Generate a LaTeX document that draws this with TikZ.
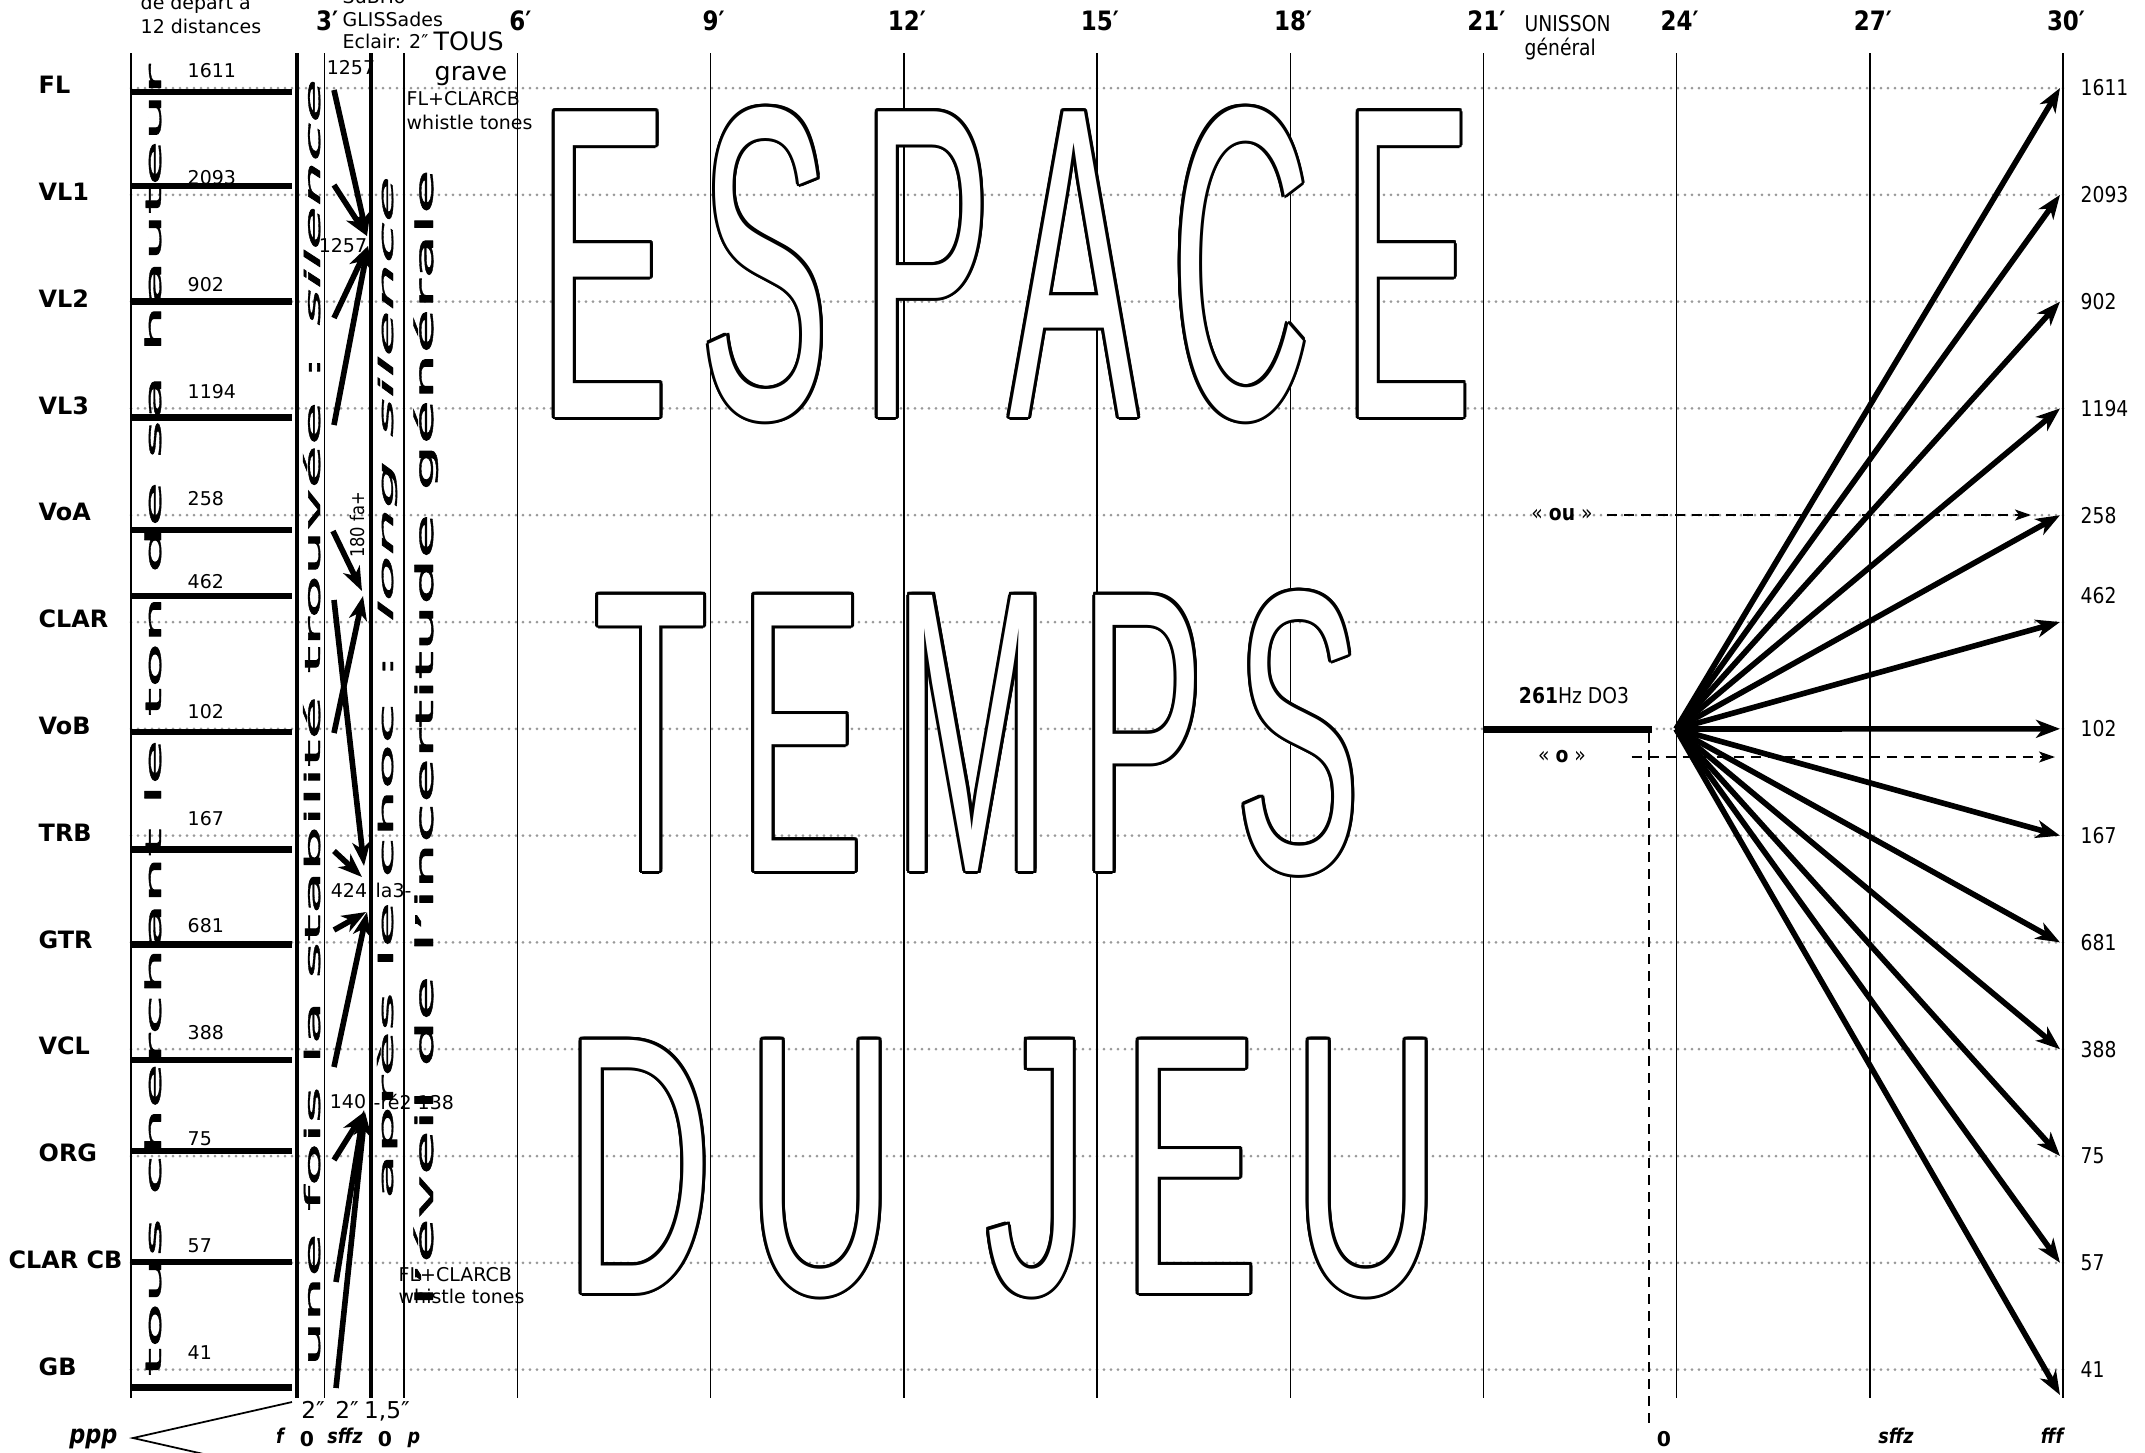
\documentclass[tikz,border=0pt]{standalone}
\usepackage{fontspec}
\usepackage{graphicx}
\setmainfont{DejaVu Sans}
\newfontfamily\condfont[FakeStretch=0.86]{DejaVu Sans}
\newfontfamily\bigfont[LetterSpace=17]{Liberation Sans}
\newfontfamily\longfont[FakeBold=1.5]{DejaVu Sans}
\usetikzlibrary{arrows.meta,calc}

\begin{document}
\begin{tikzpicture}[x=0.1mm,y=-0.1mm,
  every node/.style={inner sep=0pt},
  rule/.style={line width=0.4pt},
  heavy/.style={line width=1.1pt},
  pitchbar/.style={line width=1.8pt},
  rowline/.style={gray!80,line width=0.3mm,line cap=round,dash pattern=on 0pt off 0.7mm},
  fwd/.style={line width=1.6pt,-{Stealth[length=2.4mm,width=1.8mm,inset=0.7mm]}},
  hint/.style={line width=0.5pt,dash pattern=on 1mm off 0.7mm,-{Stealth[length=1.6mm,width=1.1mm,inset=0.4mm]}},
  instr/.style={anchor=west,font=\fontsize{6.8}{8}\selectfont\bfseries},
  val/.style={anchor=west,font=\fontsize{5.4}{6.5}\selectfont},
  rval/.style={anchor=west,font=\condfont\fontsize{6.2}{7.5}\selectfont},
  note/.style={anchor=base west,font=\fontsize{5.4}{6.5}\selectfont},
  cnote/.style={anchor=base west,font=\condfont\fontsize{6.2}{7.5}\selectfont},
  minute/.style={anchor=base,font=\condfont\bfseries\fontsize{7.6}{9}\selectfont},
  dyn/.style={anchor=base,font=\condfont\bfseries\itshape\fontsize{5.8}{7}\selectfont},
  zero/.style={anchor=base,font=\bfseries\fontsize{5.8}{7}\selectfont},
  secs/.style={anchor=base,font=\fontsize{6.6}{8}\selectfont},
  long/.style={rotate=90,anchor=base west,font=\longfont},
  word/.style={anchor=base west,font=\bigfont}]

  \useasboundingbox (0,0) rectangle (2145,1452);

  \foreach \i/\name/\lx/\hz/\bo/\no/\ro [evaluate=\i as \yy using {88+106.8*\i}] in
    {0/FL/38/1611/4/17/0, 1/VL1/38/2093/-9/17/0, 2/VL2/38/902/0/17/0,
     3/VL3/38/1194/9/17/0, 4/VoA/38/258/15/17/0, 5/CLAR/38/462/-26/40/26,
     6/VoB/38/102/3/17/0, 7/TRB/38/167/14/17/0, 8/GTR/38/681/2/17/0,
     9/VCL/38/388/11/17/0, 10/ORG/38/75/-5/17/0, 11/CLAR CB/8/57/-1/17/0,
     12/GB/38/41/18/17/0} {
    \draw[rowline] (131,\yy) -- (2063,\yy);
    \draw[pitchbar] (131,{\yy+(\bo)}) -- (292,{\yy+(\bo)});
    \node[instr] (lab\i) at (\lx,{\yy-3}) {\name};
    \node[val] (num\i) at (187,{\yy-\no}) {\hz};
    \node[rval] (end\i) at (2080,{\yy-\ro}) {\hz};
    \coordinate (e\i) at (2060,\yy);
  }
  \coordinate (e12) at (2060,1395);

  \foreach \t in {0,3,...,30}
    \draw[rule] ({131+64.4*\t},53) -- ({131+64.4*\t},1398);
  \draw[heavy] (297,53) -- (297,1398);
  \draw[heavy] (371,53) -- (371,1398);
  \draw[rule] (404,53) -- (404,1398);
  \foreach \t in {3,6,...,30}
    \node[minute] (min\t) at ({134+64.4*\t},30) {\t′};

  \foreach \k in {0,...,15} {
    \node[word] (espace\k) at ($(539,417)+({\k*22.5}:0.3mm)$) {\resizebox{93.2mm}{31mm}{ESPACE}};
    \node[word] (temps\k) at ($(594,871)+({\k*22.5}:0.3mm)$) {\resizebox{76.5mm}{28mm}{TEMPS}};
    \node[word] (dujeu\k) at ($(565,1293)+({\k*22.5}:0.3mm)$) {\resizebox{87.5mm}{25.3mm}{DU JEU}};
  }
  \node[word,text=white] (espace) at (539,417) {\resizebox{93.2mm}{31mm}{ESPACE}};
  \node[word,text=white] (temps) at (594,871) {\resizebox{76.5mm}{28mm}{TEMPS}};
  \node[word,text=white] (dujeu) at (565,1293) {\resizebox{87.5mm}{25.3mm}{DU JEU}};

  \node[long] (txa) at (161,1377) {\resizebox{131.2mm}{1.65mm}{tous cherchant le ton de sa hauteur}};
  \node[long] (txb) at (320,1367) {\resizebox{128.7mm}{1.7mm}{une fois la stabilité trouvée : \textit{silence}}};
  \node[long] (txc) at (393,1200) {\resizebox{102.3mm}{1.6mm}{après le choc : \textit{long silence}}};
  \node[long] (txd) at (433,1307) {\resizebox{113.7mm}{1.95mm}{l’éveil de l’incertitude générale}};

  \foreach \i/\sx/\sy/\tx/\ty in {0/334/90/367/236, 1/334/185/367/236, 2/334/318/368/246,
      3/334/425/368/246, 4/333/531/362/591, 5/334/600/364/866, 6/334/733/363/596,
      7/334/851/362/877, 8/334/930/366/912, 9/334/1067/367/912, 10/334/1160/364/1112,
      11/336/1282/364/1110, 12/336/1388/365/1112} {
    \coordinate (s\i) at (\sx,\sy);
    \coordinate (g\i) at (\tx,\ty);
    \draw[fwd] (s\i) -- (g\i);
  }

  \node[val,anchor=center] (hiA) at (351,68) {1257};
  \node[val,anchor=center] (hiB) at (343,246) {1257};
  \node[long,anchor=center,font=\condfont\fontsize{5.4}{6.5}\selectfont] (fa) at (357,525) {180 fa+};
  \node[val,anchor=center] (la) at (349,890) {424};
  \node[val] (la3) at (375,890) {la3-};
  \node[val,anchor=center] (re) at (348,1102) {140};
  \node[val] (re2) at (373,1102) {-ré2 138};

  \node[note] (dep) at (140,9) {de départ à};
  \node[note] (dist) at (140,33) {12 distances};
  \node[note] (sub) at (342,3) {SuBITo};
  \node[note] (gli) at (342,26) {GLISSades};
  \node[note] (ecl) at (342,48) {Eclair: 2″};
  \node[anchor=base west,font=\fontsize{7.2}{8.5}\selectfont] (tous) at (433,50) {TOUS};
  \node[anchor=base,font=\fontsize{7.2}{8.5}\selectfont] (grave) at (471,80) {grave};
  \node[note] (wtA) at (406,105) {FL+CLARCB};
  \node[note] (wtB) at (406,129) {whistle tones};
  \node[note] (wtC) at (398,1281) {FL+CLARCB};
  \node[note] (wtD) at (398,1303) {whistle tones};

  \node[dyn,anchor=base east,font=\condfont\bfseries\itshape\fontsize{7.4}{8}\selectfont] (ppp) at (118,1443) {ppp};
  \coordinate (hp) at (133,1438);
  \coordinate (hu) at (292,1402);
  \coordinate (hl) at (292,1474);
  \draw[line width=0.5pt] (hu) -- (hp) -- (hl);
  \node[dyn] (fo) at (280,1443) {f};
  \node[secs] (du1) at (313,1418) {2″};
  \node[secs] (du2) at (347,1418) {2″};
  \node[secs] (du3) at (387,1418) {1,5″};
  \node[zero] (zA) at (307,1446) {0};
  \node[dyn] (sfA) at (345,1443) {sffz};
  \node[zero] (zB) at (385,1446) {0};
  \node[dyn] (pA) at (414,1443) {p};

  \node[cnote] (uni) at (1524,31) {UNISSON};
  \node[cnote] (gen) at (1524,55) {général};
  \coordinate (u0) at (1483,729);
  \coordinate (u1) at (1652,729);
  \draw[line width=2pt] (u0) -- (u1);
  \node[cnote,anchor=base] (hz) at (1574,703) {\textbf{261}Hz DO3};
  \coordinate (d0) at (1649,733);
  \coordinate (d1) at (1649,1423);
  \draw[line width=0.5pt,dash pattern=on 1mm off 0.7mm] (d0) -- (d1);
  \node[cnote,anchor=center] (ou) at (1562,515) {« \textbf{ou} »};
  \coordinate (ouE) at (2031,515);
  \draw[hint] ([xshift=1.4mm]ou.east) -- (ouE);
  \node[cnote,anchor=center] (oo) at (1562,757) {« \textbf{o} »};
  \coordinate (ooE) at (2055,757);
  \draw[hint] ([xshift=4.5mm]oo.east) -- (ooE);

  \coordinate (o) at (1676,729);
  \foreach \i in {0,...,12}
    \draw[fwd] (o) -- (e\i);

  \node[zero] (zC) at (1664,1446) {0};
  \node[dyn] (sfB) at (1896,1443) {sffz};
  \node[dyn] (fff) at (2052,1443) {fff};
\end{tikzpicture}
\end{document}
